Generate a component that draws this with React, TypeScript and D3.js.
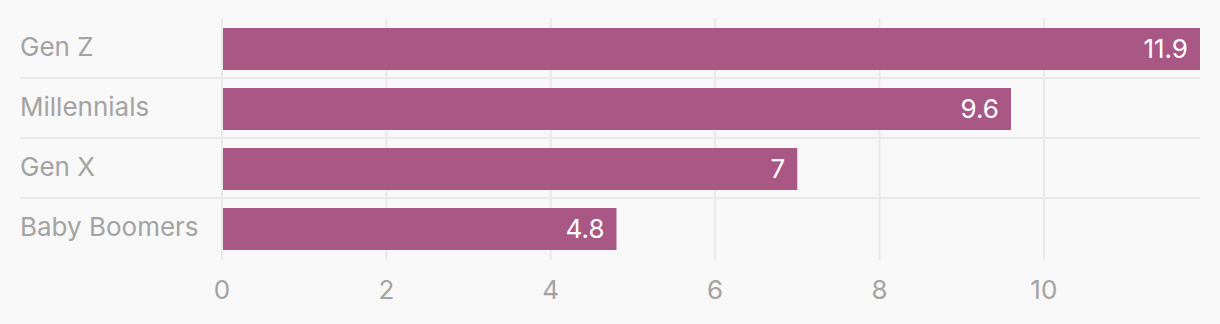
import React from "react";
import * as d3 from "d3";

const categories = ["Gen Z", "Millennials", "Gen X", "Baby Boomers"];
const values = [11.9, 9.6, 7, 4.8];
const tickValues = [0, 2, 4, 6, 8, 10];

const W = 1220, H = 324;
const x0 = 222, x1 = 1200;
const font = "Inter, 'Noto Sans', sans-serif";

export default function App() {
  const x = d3.scaleLinear().domain([0, 11.9]).range([x0, x1]);
  const y = d3.scaleBand().domain(categories).range([19, 259]).paddingInner(0.3).paddingOuter(0.15);
  const rowStep = y.step();
  return (
    <svg width={W} height={H} style={{ position: "absolute", left: 0, top: 0, background: "#f8f8f8" }}>
      <rect x={0} y={0} width={W} height={H} fill="#f8f8f8" />
      {tickValues.map((t) => (
        <line key={"g" + t} x1={x(t)} x2={x(t)} y1={18} y2={260} stroke="#e9e9e9" strokeWidth={2} />
      ))}
      {categories.slice(1).map((c) => (
        <line key={"s" + c} x1={20} x2={x1} y1={y(c)! - rowStep * 0.15 - 1} y2={y(c)! - rowStep * 0.15 - 1} stroke="#e9e9e9" strokeWidth={2} />
      ))}
      {categories.map((c, i) => (
        <g key={c}>
          <rect x={x(0) + 1} y={y(c)} width={x(values[i]) - x(0) - 1} height={y.bandwidth()} fill="#a95886" />
          <text x={20} y={y(c)! + y.bandwidth() / 2 - 2.5} dy="0.35em" fontFamily={font} fontSize={26} fill="#a3a3a3">{c}</text>
          <text x={x(values[i]) - 12} y={y(c)! + y.bandwidth() / 2 - 0.5} dy="0.35em" textAnchor="end" fontFamily={font} fontSize={26} fill="#ffffff">{values[i]}</text>
        </g>
      ))}
      {tickValues.map((t) => (
        <text key={"t" + t} x={x(t)} y={290} dy="0.35em" textAnchor="middle" fontFamily={font} fontSize={26} fill="#a3a3a3">{t}</text>
      ))}
    </svg>
  );
}
